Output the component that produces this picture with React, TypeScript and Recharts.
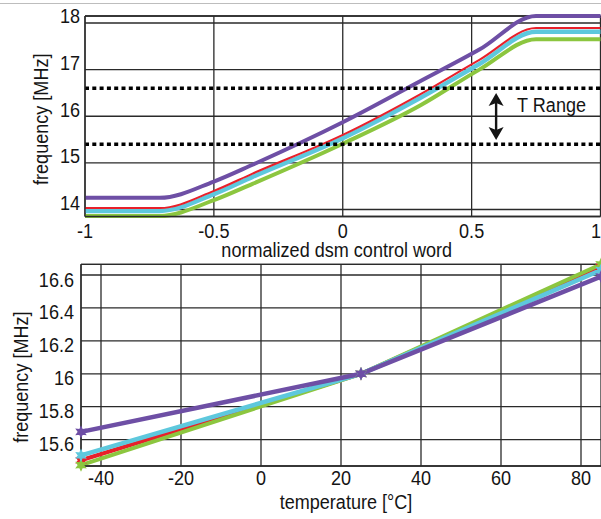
import React from 'react';
import { LineChart, Line, XAxis, YAxis, CartesianGrid, ReferenceLine } from 'recharts';

// ---------- Top chart: frequency vs normalized dsm control word ----------
const DSM_WORD = [-1, -0.71, -0.5, -0.35, 0, 0.3, 0.53, 0.75, 1];
const DSM_PURPLE = [14.25, 14.25, 14.6, 14.96, 15.87, 16.75, 17.43, 18.15, 18.15];
const DSM_RED = [14.03, 14.03, 14.4, 14.77, 15.6, 16.47, 17.21, 17.89, 17.89];
const DSM_CYAN = [13.97, 13.97, 14.33, 14.7, 15.53, 16.39, 17.12, 17.81, 17.81];
const DSM_GREEN = [13.86, 13.86, 14.2, 14.55, 15.41, 16.23, 17.0, 17.65, 17.65];
const TOP_X_TICKS = [-1, -0.5, 0, 0.5, 1];
const TOP_Y_TICKS = [14, 15, 16, 17, 18];
const TOP_X_DOMAIN = [-1, 1];
const TOP_Y_DOMAIN = [13.85, 18.15];
const T_RANGE_HIGH = 16.6;
const T_RANGE_LOW = 15.4;
const ARROW_X = 0.595;
const ARROW_TOP = 16.5;
const ARROW_BOTTOM = 15.49;

// ---------- Bottom chart: frequency vs temperature ----------
const TEMP = [-45, 25, 85];
const TEMP_PURPLE = [15.647, 16.0, 16.59];
const TEMP_RED = [15.475, 16.0, 16.65];
const TEMP_CYAN = [15.505, 16.0, 16.63];
const TEMP_GREEN = [15.445, 16.0, 16.665];
const BOT_X_TICKS = [-40, -20, 0, 20, 40, 60, 80];
const BOT_Y_TICKS = [15.6, 15.8, 16, 16.2, 16.4, 16.6];
const BOT_X_DOMAIN = [-45, 85];
const BOT_Y_DOMAIN = [15.44, 16.665];

const topData = DSM_WORD.map((x, i) => ({
  x,
  purple: DSM_PURPLE[i],
  red: DSM_RED[i],
  cyan: DSM_CYAN[i],
  green: DSM_GREEN[i],
}));
const botData = TEMP.map((x, i) => ({
  x,
  purple: TEMP_PURPLE[i],
  red: TEMP_RED[i],
  cyan: TEMP_CYAN[i],
  green: TEMP_GREEN[i],
}));

const FONT = "'Liberation Sans', Arial, Helvetica, sans-serif";
const FS = 21;
const SX = 0.86; // horizontal condensing, like a narrow sans
const INK = '#141414';
const GRID = '#2a2a2a';
const C = { purple: '#6e4fa5', red: '#e8202a', cyan: '#5ec8dd', green: '#8cc63f' };

const fmt = (v: number) => String(Math.round(v * 10) / 10);

const NText = ({ x, y, anchor = 'start', rotate = 0, children }: any) => (
  <text
    transform={`translate(${x},${y})${rotate ? ` rotate(${rotate})` : ''} scale(${SX},1)`}
    textAnchor={anchor}
    fontFamily={FONT}
    fontSize={FS}
    fill={INK}
  >
    {children}
  </text>
);

const xTick = (dy: number, edge: number) => (p: any) => {
  const label = fmt(p.payload.value);
  const half = (label.length * FS * 0.556 * SX) / 2;
  const atEdge = p.x + half > edge;
  return (
    <NText x={atEdge ? edge : p.x} y={p.y + dy} anchor={atEdge ? 'end' : 'middle'}>
      {label}
    </NText>
  );
};
const yTick = (dy: number) => (p: any) => (
  <NText x={p.x} y={p.y + dy} anchor="end">
    {fmt(p.payload.value)}
  </NText>
);

const Star = (color: string) => (p: any) => {
  const { cx, cy } = p;
  if (cx == null || cy == null) return <g />;
  const pts: string[] = [];
  for (let k = 0; k < 12; k++) {
    const r = k % 2 === 0 ? 5.2 : 2.6;
    const a = (Math.PI / 6) * k - Math.PI / 2;
    pts.push(`${cx + r * Math.cos(a)},${cy + r * Math.sin(a)}`);
  }
  return <polygon key={`${cx}-${cy}`} points={pts.join(' ')} fill={color} stroke={color} strokeWidth={1.2} />;
};

const TRangeArrow = (p: any) => {
  const x = p.x1;
  const yTop = Math.min(p.y1, p.y2);
  const yBot = Math.max(p.y1, p.y2);
  const hw = 7.5;
  const hh = 13;
  const notch = 3;
  return (
    <g>
      <line x1={x} y1={yTop + hh - notch} x2={x} y2={yBot - hh + notch} stroke={INK} strokeWidth={2.4} />
      <polygon
        points={`${x},${yTop} ${x - hw},${yTop + hh} ${x},${yTop + hh - notch} ${x + hw},${yTop + hh}`}
        fill={INK}
      />
      <polygon
        points={`${x},${yBot} ${x - hw},${yBot - hh} ${x},${yBot - hh + notch} ${x + hw},${yBot - hh}`}
        fill={INK}
      />
      <NText x={x + 21} y={yTop + 18.7}>
        T Range
      </NText>
    </g>
  );
};

export default function App() {
  return (
    <div style={{ position: 'relative', width: 601, height: 519, overflow: 'hidden', background: '#fff' }}>
      <style>{`html,body{margin:0;padding:0;overflow:hidden;background:#fff}`}</style>
      <div style={{ position: 'absolute', left: 0, top: 2.5, width: 601, height: 1.5, background: '#bdbdbd' }} />

      <div style={{ position: 'absolute', left: 0, top: 0 }}>
        <LineChart width={601} height={260} data={topData} margin={{ top: 16, right: 0.5, left: 0, bottom: 0 }}>
          <CartesianGrid stroke={GRID} strokeWidth={1.3} />
          <XAxis
            dataKey="x"
            type="number"
            domain={TOP_X_DOMAIN}
            ticks={TOP_X_TICKS}
            height={43.5}
            tickSize={0}
            tickMargin={0}
            tick={xTick(21, 601)}
            axisLine={{ stroke: GRID, strokeWidth: 1.3 }}
            label={{
              content: (lp: any) => {
                const vb = lp.viewBox || { x: 85, y: 216.5, width: 515.5, height: 43.5 };
                return (
                  <NText x={vb.x + vb.width / 2 - 6} y={vb.y + 40} anchor="middle">
                    normalized dsm control word
                  </NText>
                );
              },
            }}
          />
          <YAxis
            type="number"
            domain={TOP_Y_DOMAIN}
            ticks={TOP_Y_TICKS}
            width={85}
            tickSize={0}
            tickMargin={5}
            tick={yTick(0.5)}
            axisLine={{ stroke: GRID, strokeWidth: 1.3 }}
            label={{
              content: (lp: any) => {
                const vb = lp.viewBox || { x: 0, y: 16, width: 85, height: 200.5 };
                return (
                  <NText x={vb.x + 47.5} y={vb.y + vb.height / 2 + 3} anchor="middle" rotate={-90}>
                    frequency [MHz]
                  </NText>
                );
              },
            }}
          />
          <ReferenceLine y={TOP_Y_DOMAIN[1]} stroke={GRID} strokeWidth={1.3} />
          <Line type="monotone" dataKey="green" stroke={C.green} strokeWidth={4} dot={false} isAnimationActive={false} />
          <Line type="monotone" dataKey="cyan" stroke={C.cyan} strokeWidth={4.5} dot={false} isAnimationActive={false} />
          <Line type="monotone" dataKey="red" stroke={C.red} strokeWidth={2} dot={false} isAnimationActive={false} />
          <Line type="monotone" dataKey="purple" stroke={C.purple} strokeWidth={4} dot={false} isAnimationActive={false} />
          <ReferenceLine y={T_RANGE_HIGH} stroke="#000" strokeWidth={3.6} strokeDasharray="4 3.3" />
          <ReferenceLine y={T_RANGE_LOW} stroke="#000" strokeWidth={3.6} strokeDasharray="4 3.3" />
          <ReferenceLine
            segment={[
              { x: ARROW_X, y: ARROW_TOP },
              { x: ARROW_X, y: ARROW_BOTTOM },
            ]}
            shape={TRangeArrow}
          />
        </LineChart>
      </div>

      <div style={{ position: 'absolute', left: 0, top: 255 }}>
        <LineChart width={601} height={264} data={botData} margin={{ top: 9.3, right: 0, left: 0, bottom: 0 }}>
          <CartesianGrid stroke={GRID} strokeWidth={1.3} />
          <XAxis
            dataKey="x"
            type="number"
            domain={BOT_X_DOMAIN}
            ticks={BOT_X_TICKS}
            height={53}
            tickSize={0}
            tickMargin={0}
            tick={xTick(18.5, 601)}
            axisLine={{ stroke: GRID, strokeWidth: 1.3 }}
            label={{
              content: (lp: any) => {
                const vb = lp.viewBox || { x: 81, y: 211, width: 520, height: 53 };
                return (
                  <NText x={vb.x + vb.width / 2 + 5} y={vb.y + 43} anchor="middle">
                    temperature [°C]
                  </NText>
                );
              },
            }}
          />
          <YAxis
            type="number"
            domain={BOT_Y_DOMAIN}
            ticks={BOT_Y_TICKS}
            width={81}
            tickSize={0}
            tickMargin={7}
            tick={yTick(11.5)}
            axisLine={{ stroke: GRID, strokeWidth: 1.3 }}
            label={{
              content: (lp: any) => {
                const vb = lp.viewBox || { x: 0, y: 9.3, width: 81, height: 201.7 };
                return (
                  <NText x={vb.x + 27.5} y={vb.y + vb.height / 2 + 12} anchor="middle" rotate={-90}>
                    frequency [MHz]
                  </NText>
                );
              },
            }}
          />
          <ReferenceLine y={BOT_Y_DOMAIN[1]} stroke={GRID} strokeWidth={1.3} />
          <Line type="linear" dataKey="red" stroke={C.red} strokeWidth={4} dot={Star(C.red)} isAnimationActive={false} />
          <Line type="linear" dataKey="green" stroke={C.green} strokeWidth={4} dot={Star(C.green)} isAnimationActive={false} />
          <Line type="linear" dataKey="cyan" stroke={C.cyan} strokeWidth={4.5} dot={Star(C.cyan)} isAnimationActive={false} />
          <Line type="linear" dataKey="purple" stroke={C.purple} strokeWidth={4.5} dot={Star(C.purple)} isAnimationActive={false} />
        </LineChart>
      </div>
    </div>
  );
}
